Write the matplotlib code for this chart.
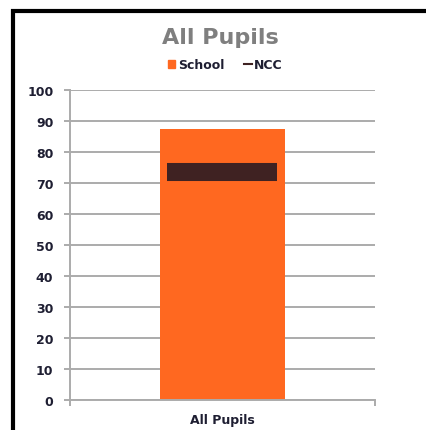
import matplotlib
matplotlib.use("Agg")
import matplotlib.pyplot as plt
from matplotlib.patches import Patch
from matplotlib.lines import Line2D

categories = ["All Pupils"]
school = [87.5]
ncc = [73.5]
yticks = list(range(0, 101, 10))

orange = "#FF6820"
ncc_col = "#3F2222"
grid_col = "#ABABAB"
text_col = "#1E1E32"

fig = plt.figure(figsize=(4.27, 4.31), dpi=100)
ax = fig.add_axes([0.164, 0.0696, 0.714, 0.7193])

x = list(range(len(categories)))
ax.bar(x, school, width=0.41, color=orange, zorder=2)
ax.plot(x, ncc, linestyle="none", marker="_", markersize=79, markeredgewidth=13,
        color=ncc_col, zorder=3)

ax.set_xlim(-0.5, 0.5)
ax.set_ylim(0, 100)
ax.set_yticks(yticks)
ax.set_xticks(x)
ax.set_xticklabels(categories)
ax.set_xticks([-0.5, 0.5], minor=True)

ax.yaxis.grid(True, color=grid_col, linewidth=1.4, zorder=0)
ax.set_axisbelow(True)
for s in ["top", "right"]:
    ax.spines[s].set_visible(False)
for s in ["left", "bottom"]:
    ax.spines[s].set_color(grid_col)
    ax.spines[s].set_linewidth(1.4)

ax.tick_params(axis="y", length=4, width=1.4, color=grid_col, pad=8,
               labelsize=9, labelcolor=text_col)
ax.tick_params(axis="x", which="major", length=0, pad=9, labelsize=9, labelcolor=text_col)
ax.tick_params(axis="x", which="minor", length=4, width=1.4, color=grid_col)
for lab in ax.get_yticklabels() + ax.get_xticklabels():
    lab.set_fontweight("bold")

fig.text(0.515, 0.912, "All Pupils", ha="center", va="center", fontsize=16,
         fontweight="bold", color="#7F7F7F")

handles = [Patch(color=orange, label="School"),
           Line2D([0], [0], color=ncc_col, linewidth=1.5, label="NCC")]
leg = fig.legend(handles=handles, loc="center", bbox_to_anchor=(0.528, 0.847), ncol=2,
                 frameon=False, prop={"weight": "bold", "size": 9},
                 handlelength=0.6, handleheight=0.6, handletextpad=0.2, columnspacing=1.6)
for t in leg.get_texts():
    t.set_color(text_col)

# outer frame: only the left and top edges fall inside the image
fx = 13 / 427
fy = 1 - 12 / 431
fig.add_artist(Line2D([fx, fx, 1.0], [0.0, fy, fy], transform=fig.transFigure,
                      color="black", linewidth=3, solid_joinstyle="miter"))

fig.savefig("out.png", dpi=100)
